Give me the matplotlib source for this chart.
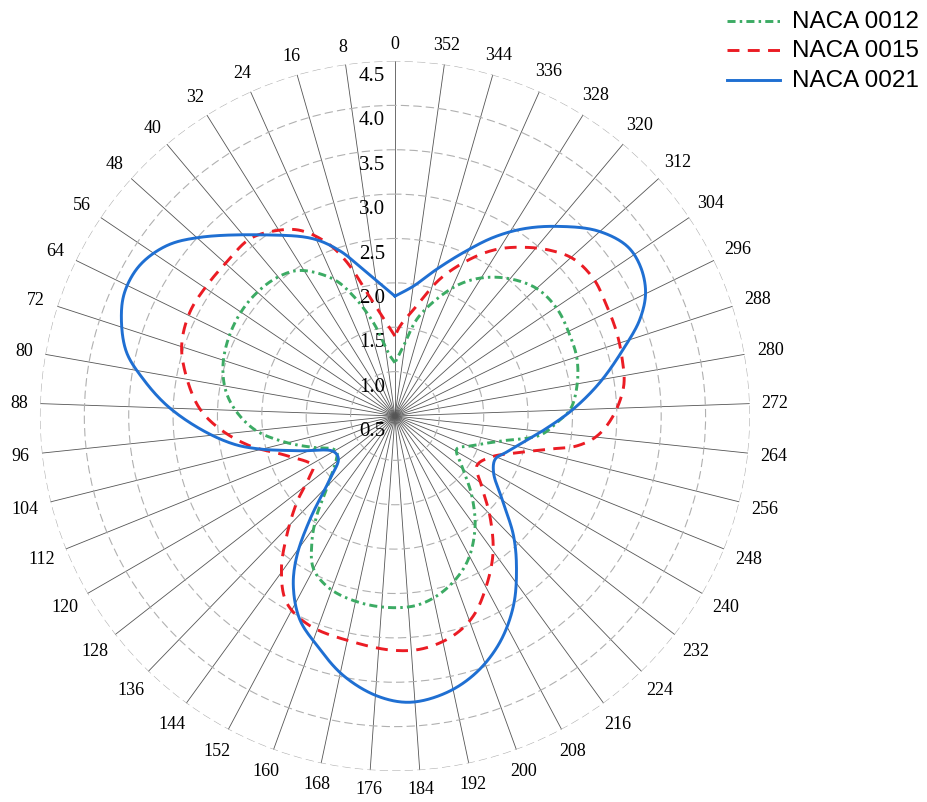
import numpy as np
import matplotlib
matplotlib.use('Agg')
import matplotlib.pyplot as plt
from matplotlib.lines import Line2D
from matplotlib.transforms import offset_copy

plt.rcParams['lines.scale_dashes'] = False

# angle (deg, counter-clockwise from top) and radius for each profile
theta_0012 = [0, 4.7, 13.0, 19.1, 24.2, 33.2, 40.5, 49.7, 58.5, 67.3, 74.7, 82.0, 88.7,
              96.1, 103.7, 110.9, 118.1, 122.0, 126.4, 136.9, 141.9, 146.6, 151.9, 159.4,
              169.4, 179.5, 187.6, 196.6, 206.1, 215.3, 223.9, 232.2, 241.9, 248.2, 256.6,
              262.5, 267.8, 272.3, 279.5, 287.4, 294.6, 303.4, 311.8, 319.9, 327.4, 333.7,
              340.3, 347.2, 352.9]
r_0012 = [1.10, 1.18, 1.58, 1.93, 2.19, 2.46, 2.55, 2.59, 2.59, 2.56, 2.51, 2.42, 2.28,
          2.07, 1.76, 1.49, 1.29, 1.27, 1.32, 1.63, 1.93, 2.20, 2.45, 2.58,
          2.64, 2.66, 2.64, 2.53, 2.34, 2.06, 1.75, 1.47, 1.29, 1.41, 1.72,
          2.15, 2.33, 2.48, 2.58, 2.65, 2.67, 2.69, 2.65, 2.52, 2.35, 2.16,
          1.90, 1.62, 1.30]

theta_0015 = [0, 10.8, 17.4, 21.5, 27.1, 32.6, 39.3, 47.6, 55.3, 63.2, 71.8, 79.9, 87.9,
              94.2, 101.6, 110.1, 121.3, 125.1, 131.3, 137.9, 143.5, 149.8, 157.9, 169.6,
              179.6, 186.9, 194.9, 201.4, 208.4, 215.8, 223.6, 231.2, 238.7, 246.6, 253.8,
              258.0, 260.7, 264.4, 270.1, 277.5, 284.1, 290.7, 297.5, 304.6, 311.3, 316.8,
              322.7, 328.6, 334.4, 341.7, 348.7, 356.6]
r_0015 = [1.40, 1.80, 2.32, 2.60, 2.85, 2.98, 3.08, 3.07, 3.08, 3.09, 3.03, 2.88, 2.70,
          2.48, 2.17, 1.80, 1.58, 1.67, 1.97, 2.32, 2.65, 2.93, 3.05, 3.09,
          3.14, 3.14, 3.06, 2.92, 2.67, 2.39, 2.05, 1.75, 1.58, 1.67, 1.97,
          2.29, 2.58, 2.79, 2.96, 3.10, 3.14, 3.17, 3.19, 3.22, 3.18, 3.06,
          2.89, 2.70, 2.46, 2.13, 1.77, 1.52]

theta_0021 = [0, 12.2, 18.4, 24.8, 35.3, 47.5, 53.3, 59.5, 65.4, 70.5, 76.6, 81.6, 87.4,
              93.8, 99.8, 103.7, 110.1, 120.0, 127.2, 134.1, 140.5, 144.9, 149.1, 154.9,
              161.2, 168.7, 176.3, 183.0, 190.6, 197.7, 204.9, 212.0, 218.5, 224.7, 231.4,
              240.2, 246.7, 252.0, 265.0, 272.2, 279.3, 286.3, 291.6, 296.3, 301.5, 306.3,
              312.5, 319.5, 325.5, 331.1, 337.2, 344.1, 351.8]
r_0021 = [1.85, 2.19, 2.46, 2.70, 3.00, 3.48, 3.71, 3.84, 3.85, 3.77, 3.61, 3.37, 3.07,
          2.70, 2.35, 2.07, 1.64, 1.30, 1.30, 1.52, 2.00, 2.42, 2.73, 3.03,
          3.23, 3.48, 3.66, 3.73, 3.67, 3.53, 3.31, 3.02, 2.70, 2.40, 2.06,
          1.78, 1.73, 1.82, 2.20, 2.51, 2.84, 3.18, 3.47, 3.65, 3.74, 3.74,
          3.59, 3.31, 3.06, 2.80, 2.50, 2.22, 1.98]

names = ['NACA 0012', 'NACA 0015', 'NACA 0021']
angle_ticks = list(range(0, 360, 8))
r_ticks = [0.5, 1.0, 1.5, 2.0, 2.5, 3.0, 3.5, 4.0, 4.5]
R_MIN, R_MAX = 0.5, 4.5


def smooth_profile(theta_deg, r, n=16):
    # centripetal Catmull-Rom through the points, kept sharp at 0 deg
    th = np.deg2rad(np.append(theta_deg, 360.0))
    rr = np.append(r, r[0]) - R_MIN
    pts = np.column_stack([rr * np.cos(th), rr * np.sin(th)])
    pts = np.vstack([2 * pts[0] - pts[1], pts, 2 * pts[-1] - pts[-2]])
    out = []
    for i in range(1, len(pts) - 2):
        p0, p1, p2, p3 = pts[i - 1:i + 3]
        t0 = 0.0
        t1 = t0 + np.linalg.norm(p1 - p0) ** 0.5
        t2 = t1 + np.linalg.norm(p2 - p1) ** 0.5
        t3 = t2 + np.linalg.norm(p3 - p2) ** 0.5
        t = np.linspace(t1, t2, n, endpoint=False)[:, None]
        a1 = (t1 - t) / (t1 - t0) * p0 + (t - t0) / (t1 - t0) * p1
        a2 = (t2 - t) / (t2 - t1) * p1 + (t - t1) / (t2 - t1) * p2
        a3 = (t3 - t) / (t3 - t2) * p2 + (t - t2) / (t3 - t2) * p3
        b1 = (t2 - t) / (t2 - t0) * a1 + (t - t0) / (t2 - t0) * a2
        b2 = (t3 - t) / (t3 - t1) * a2 + (t - t1) / (t3 - t1) * a3
        out.append((t2 - t) / (t2 - t1) * b1 + (t - t1) / (t2 - t1) * b2)
    out.append(pts[-2][None])
    xy = np.vstack(out)
    ang = np.unwrap(np.arctan2(xy[:, 1], xy[:, 0]))
    return ang, np.hypot(xy[:, 0], xy[:, 1]) + R_MIN


fig = plt.figure(figsize=(9.27, 8.03), dpi=100)
ax = fig.add_axes([0.0431, 0.0386, 0.7659, 0.8842], projection='polar')
ax.set_theta_zero_location('N')
ax.set_theta_direction(1)
ax.set_rlim(R_MIN, R_MAX)
ax.set_xticks(np.deg2rad(angle_ticks))
ax.set_xticklabels([])
ax.set_yticks(r_ticks[1:])
ax.set_yticklabels([])
ax.tick_params(length=0)
ax.xaxis.grid(True, color='#555555', lw=0.6, ls='-')
ax.yaxis.grid(True, color='#b0b0b0', lw=0.8, ls=(0, (6, 3)))
ax.spines['polar'].set_visible(False)

# angle labels just outside the outer ring
for a in angle_ticks:
    th = np.deg2rad(a)
    w = 8.8 * len(str(a))
    dist = 12 + w / 2 * abs(np.sin(th)) + 6 * abs(np.cos(th))
    tr = offset_copy(ax.transData, fig=fig, x=-np.sin(th) * dist,
                     y=np.cos(th) * dist, units='dots')
    ax.text(th, R_MAX, str(a), transform=tr, ha='center', va='center',
            fontsize=13, family='Liberation Serif', clip_on=False)

# radial labels along the 0 deg spoke
for v in r_ticks:
    tr = offset_copy(ax.transData, fig=fig, x=-23, y=-5, units='dots')
    ax.text(0, v, f'{v:.1f}', transform=tr, ha='center', va='top',
            fontsize=15, family='Liberation Serif', zorder=4)

styles = [
    dict(color='#3cab64', dashes=(5.8, 3.0, 1.8, 3.0)),
    dict(color='#eb1c24', dashes=(8.6, 6.0)),
    dict(color='#1f6fd2', ls='-'),
]
series = [(theta_0012, r_0012), (theta_0015, r_0015), (theta_0021, r_0021)]

for (th, r), st in zip(series, styles):
    ang, rad = smooth_profile(th, r)
    ax.plot(ang, rad, lw=2.1, zorder=5, **st)

# legend in the top right corner
leg_y = [22, 51, 81]
for name, st, y in zip(names, styles, leg_y):
    yf = 1 - y / 803
    fig.add_artist(Line2D([727 / 927, 780 / 927], [yf, yf], transform=fig.transFigure,
                          lw=2.1, **st))
    fig.text(792 / 927, yf, name, va='center', ha='left', fontsize=17.5,
             family='Liberation Sans')

fig.savefig('out.png', dpi=100)
